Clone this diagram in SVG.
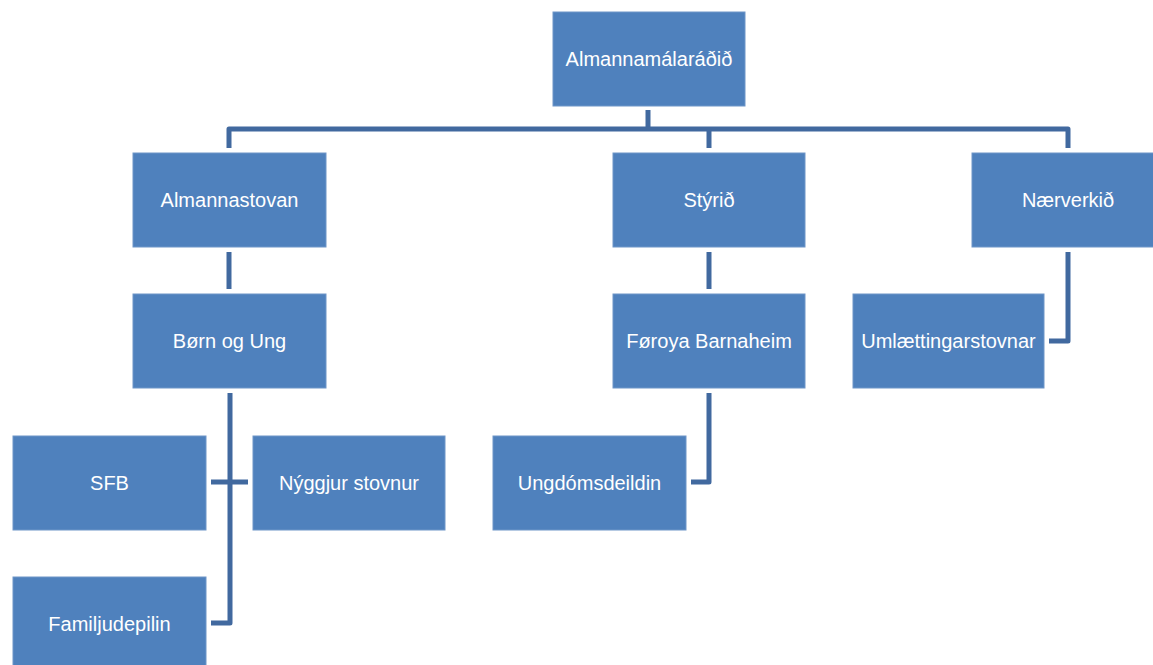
<svg xmlns="http://www.w3.org/2000/svg" width="1153" height="665" viewBox="0 0 1153 665">
<style>
.box{fill:#4F81BD;stroke:#6f96c8;stroke-width:1}
.lbl{fill:#ffffff;font-family:"Liberation Sans",Arial,sans-serif;font-size:20px;text-anchor:middle}
.conn{fill:none;stroke:#41699F;stroke-width:5;stroke-linejoin:round;stroke-linecap:butt}
</style>
<rect width="1153" height="665" fill="#ffffff"/>
<g id="connectors">
<path class="conn" d="M648,110 V129"/>
<path class="conn" d="M229,148 V129 H1068 V148"/>
<path class="conn" d="M709,129 V148"/>
<path class="conn" d="M229,252 V289"/>
<path class="conn" d="M709,252 V289"/>
<path class="conn" d="M1068,252 V341 H1049"/>
<path class="conn" d="M230,393 V623 H211"/>
<path class="conn" d="M211,482 H248"/>
<path class="conn" d="M709,393 V482 H691"/>
</g>
<g id="n-almannamalaradid"><rect class="box" x="553" y="12" width="192" height="94"/><text class="lbl" x="649" y="66">Almannamálaráðið</text></g>
<g id="n-almannastovan"><rect class="box" x="133" y="153" width="193" height="94"/><text class="lbl" x="229.5" y="207">Almannastovan</text></g>
<g id="n-styrid"><rect class="box" x="613" y="153" width="192" height="94"/><text class="lbl" x="709" y="207">Stýrið</text></g>
<g id="n-naerverkid"><rect class="box" x="972" y="153" width="192" height="94"/><text class="lbl" x="1068" y="207">Nærverkið</text></g>
<g id="n-born-og-ung"><rect class="box" x="133" y="294" width="193" height="94"/><text class="lbl" x="229.5" y="348">Børn og Ung</text></g>
<g id="n-foroya-barnaheim"><rect class="box" x="613" y="294" width="192" height="94"/><text class="lbl" x="709" y="348">Føroya Barnaheim</text></g>
<g id="n-umlaettingarstovnar"><rect class="box" x="853" y="294" width="191" height="94"/><text class="lbl" x="948.5" y="348">Umlættingarstovnar</text></g>
<g id="n-sfb"><rect class="box" x="13" y="436" width="193" height="94"/><text class="lbl" x="109.5" y="490">SFB</text></g>
<g id="n-nyggjur-stovnur"><rect class="box" x="253" y="436" width="192" height="94"/><text class="lbl" x="349" y="490">Nýggjur stovnur</text></g>
<g id="n-ungdomsdeildin"><rect class="box" x="493" y="436" width="193" height="94"/><text class="lbl" x="589.5" y="490">Ungdómsdeildin</text></g>
<g id="n-familjudepilin"><rect class="box" x="13" y="577" width="193" height="94"/><text class="lbl" x="109.5" y="631">Familjudepilin</text></g>
</svg>
